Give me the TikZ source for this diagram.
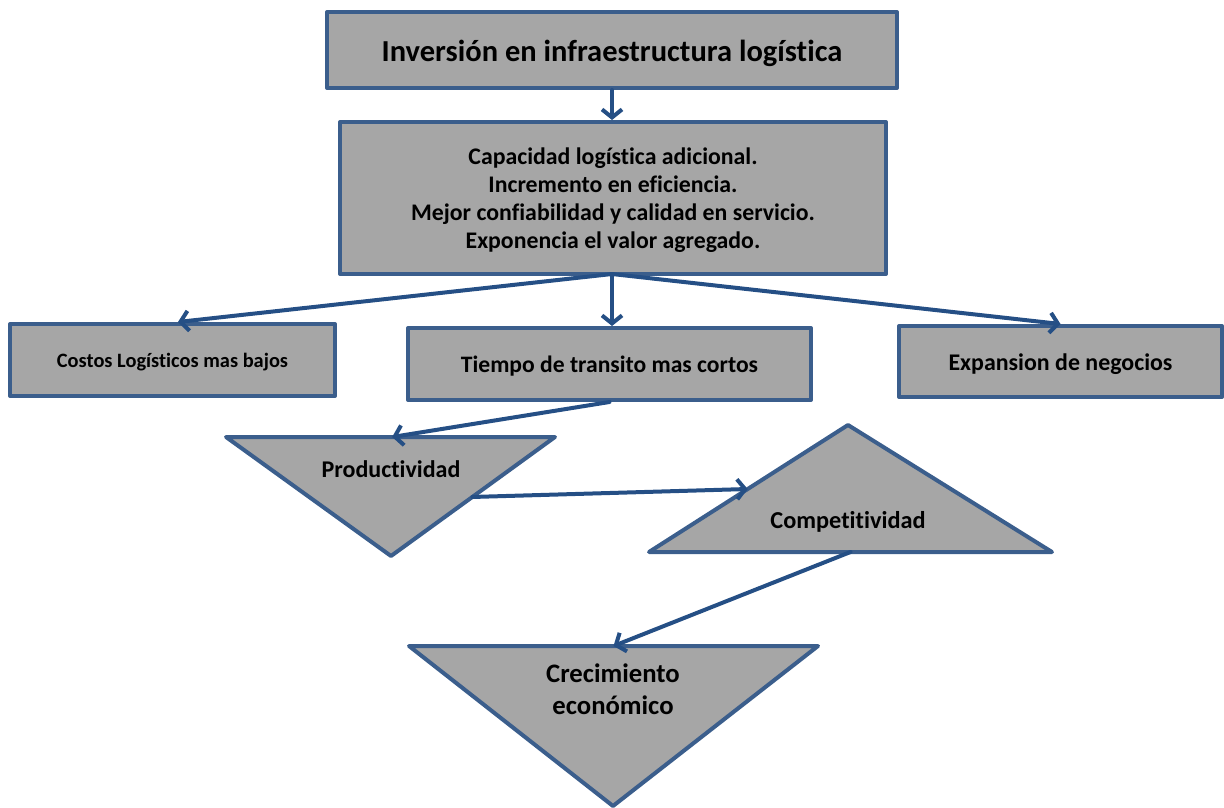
\documentclass[tikz,border=0pt]{standalone}
\usepackage{fontspec}
\setmainfont{Carlito}[Ligatures={NoCommon}]
\usetikzlibrary{arrows.meta,calc}
\definecolor{boxfill}{HTML}{A6A6A6}
\definecolor{boxline}{HTML}{3B5E8C}
\definecolor{arrowline}{HTML}{254F85}
\begin{document}
\begin{tikzpicture}[x=1pt,y=-1pt,
  box/.style={draw=boxline, fill=boxfill, line width=4pt, line join=round},
  link/.style={draw=arrowline, line width=4pt, line cap=round,
    -{Straight Barb[length=8pt,width=20pt,line width=4pt]}},
  lbl/.style={text=black, align=center, inner sep=0pt},
  fs/.style 2 args={font=\bfseries\fontsize{#1}{#2}\selectfont}]
\useasboundingbox (0,0) rectangle (1224,808);

% rectangular boxes
\node[box, minimum width=570pt, minimum height=76pt] (inv) at (612,50) {};
\node[lbl, fs={30.5}{36}] at ($(inv.center)+(0,3)$) {Inversión en infraestructura logística};

\node[box, minimum width=546pt, minimum height=152pt] (cap) at (613,198) {};
\node[lbl, fs={23.8}{28}] at ($(cap.center)+(0,2)$) {Capacidad logística adicional.\\Incremento en eficiencia.\\Mejor confiabilidad y calidad en servicio.\\Exponencia el valor agregado.};

\node[box, minimum width=325pt, minimum height=72pt] (cost) at (172.5,360) {};
\node[lbl, fs={20.4}{24}] at ($(cost.center)+(0,2)$) {Costos Logísticos mas bajos};

\node[box, minimum width=403pt, minimum height=72pt] (time) at (609.5,364) {};
\node[lbl, fs={23.6}{28}] at ($(time.center)+(0,2.5)$) {Tiempo de transito mas cortos};

\node[box, minimum width=323pt, minimum height=71pt] (exp) at (1060.5,361.5) {};
\node[lbl, fs={23.9}{28}] at ($(exp.center)+(0,2.5)$) {Expansion de negocios};

% triangles
\coordinate (p1) at (226,437); \coordinate (p2) at (555,437); \coordinate (p3) at (391,556);
\coordinate (c1) at (848,425); \coordinate (c2) at (1052,552); \coordinate (c3) at (649,552);
\coordinate (e1) at (409,646); \coordinate (e2) at (818,646); \coordinate (e3) at (613,806);
\draw[box] (p1) -- (p2) -- (p3) -- cycle;
\draw[box] (c1) -- (c2) -- (c3) -- cycle;
\draw[box] (e1) -- (e2) -- (e3) -- cycle;
\node[lbl, fs={24}{28}] (prod) at (391,469) {Productividad};
\node[lbl, fs={24.3}{28}] (comp) at (848,522) {Competitividad};
\node[lbl, fs={26.7}{32}] (crec) at (613,689) {Crecimiento\\económico};

% connectors
\draw[link] (inv.south) -- (cap.north -| inv.south);
\coordinate (hub) at (612,274);
\draw[link] (hub) -- ($(cost.north)+(5.5,0)$);
\draw[link] (hub) -- (hub |- time.north);
\draw[link] (hub) -- (exp.north);
\draw[link] (time.south) -- ($(p1)!0.505!(p2)$);
\draw[link] ($(p2)!0.504!(p3)$) -- ($(c3)!0.496!(c1)$);
\draw[link] ($(c3)!0.5!(c2)$) -- ($(e1)!0.5!(e2)$);
\end{tikzpicture}
\end{document}
